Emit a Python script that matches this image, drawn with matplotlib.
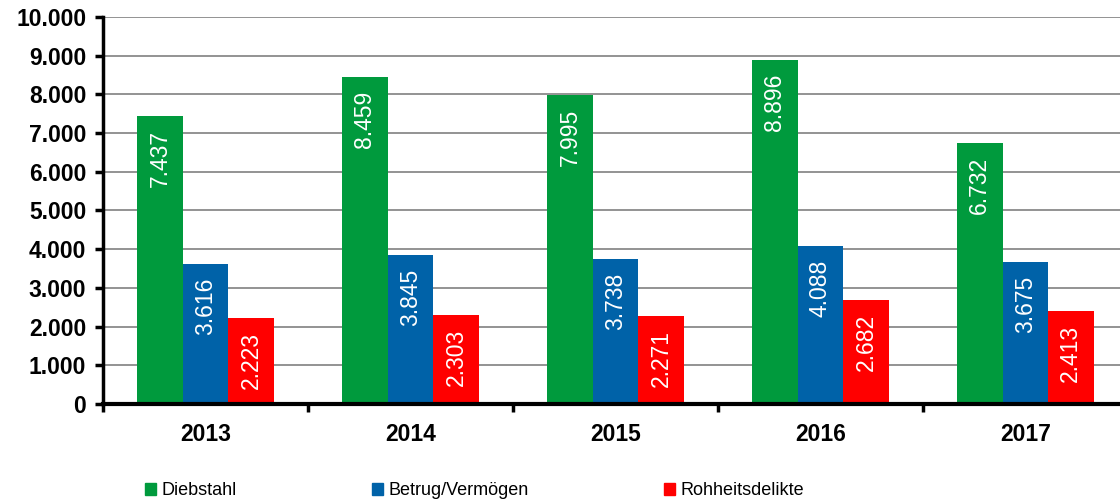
import numpy as np
import matplotlib.pyplot as plt
from matplotlib.patches import Patch
from matplotlib.ticker import FuncFormatter, FixedLocator

plt.rcParams['font.family'] = ['Liberation Sans', 'DejaVu Sans']

# Daten
jahre = ['2013', '2014', '2015', '2016', '2017']
diebstahl = [7437, 8459, 7995, 8896, 6732]
betrug = [3616, 3845, 3738, 4088, 3675]
rohheit = [2223, 2303, 2271, 2682, 2413]

serien = [('Diebstahl', diebstahl, '#009a3d'),
          ('Betrug/Vermögen', betrug, '#0062a8'),
          ('Rohheitsdelikte', rohheit, '#ff0000')]


def fmt(v):
    return f"{int(v):,}".replace(",", ".")


fig = plt.figure(figsize=(11.2, 4.99), dpi=100)
ax = fig.add_axes([0.092, 0.1904, 0.915, 0.7756])

x = np.arange(len(jahre))
bw = 0.222
for i, (name, werte, farbe) in enumerate(serien):
    pos = x + (i - 1) * bw
    ax.bar(pos, werte, bw, color=farbe, edgecolor='none', zorder=3)
    for xp, v in zip(pos, werte):
        ax.annotate(fmt(v), (xp, v), xytext=(0, -10), textcoords='offset points',
                    rotation=90, ha='center', va='top', color='white',
                    fontsize=16.5, zorder=4)

ax.set_xlim(-0.5, len(jahre) - 0.5)
ax.set_ylim(0, 10000)
ax.set_yticks(np.arange(0, 10001, 1000))
ax.yaxis.set_major_formatter(FuncFormatter(lambda v, p: fmt(v)))
ax.grid(axis='y', color='#808080', linewidth=1.2, zorder=0)

ax.set_xticks(x)
ax.set_xticklabels(jahre)
ax.xaxis.set_minor_locator(FixedLocator(np.arange(-0.5, len(jahre), 1.0)))
ax.tick_params(axis='x', which='major', length=0, pad=14)
ax.tick_params(axis='x', which='minor', length=6, width=2.5, direction='out')
ax.tick_params(axis='y', length=6, width=2.5, pad=6)
for lbl in ax.get_xticklabels() + ax.get_yticklabels():
    lbl.set_fontsize(16.5)
    lbl.set_fontweight('bold')

for s in ['top', 'right']:
    ax.spines[s].set_visible(False)
ax.spines['left'].set_linewidth(2.5)
ax.spines['bottom'].set_linewidth(3)
ax.spines['left'].set_zorder(5)
ax.spines['bottom'].set_zorder(5)

handles = [Patch(color=c, label=n) for n, _, c in serien]
fig.legend(handles=handles, loc='lower left', bbox_to_anchor=(0.115, -0.033),
           ncol=3, frameon=False, fontsize=13, handlelength=0.6, handleheight=0.6,
           handletextpad=0.3, columnspacing=7.5)

fig.savefig('out.png', dpi=100)
